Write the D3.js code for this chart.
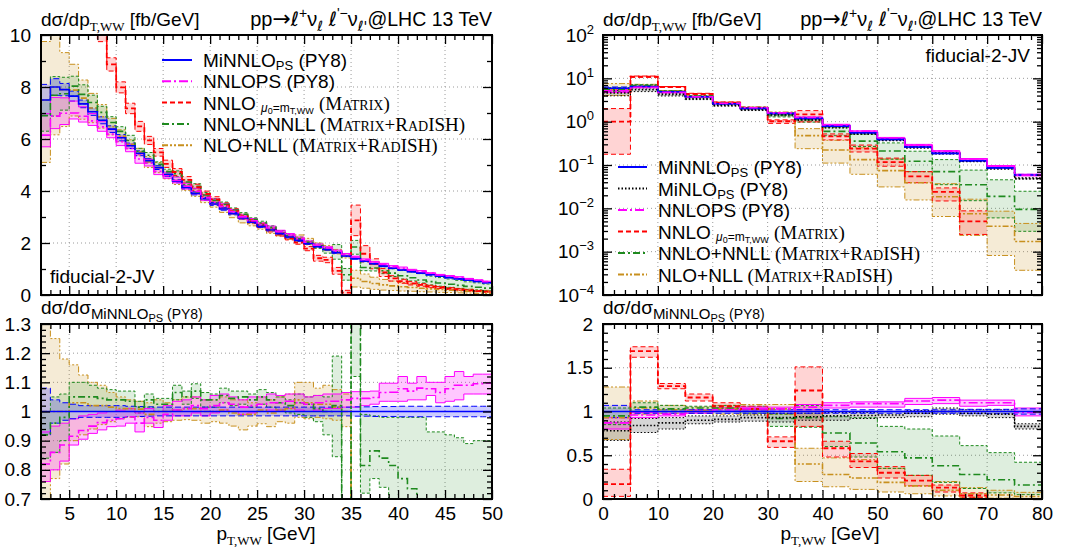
<!DOCTYPE html>
<html>
<head>
<meta charset="utf-8">
<script src="https://cdn.jsdelivr.net/npm/d3@7"></script>
<style>
  body { margin: 0; background: #fff; }
  svg { display: block; }
</style>
</head>
<body>
<svg id="chart" width="1068" height="547"></svg>
<script>
// ---------- left plot: 1 GeV bins from 2 to 50 GeV ----------
var edgesL = d3.range(2, 51);
// MiNNLO_PS absolute [fb/GeV]
var minnloL = [7.5, 8.0, 7.9, 7.65, 7.35, 7.05, 6.72, 6.38, 6.05, 5.74,
  5.45, 5.17, 4.9, 4.63, 4.38, 4.14, 3.91, 3.7, 3.5, 3.31,
  3.13, 2.96, 2.8, 2.64, 2.5, 2.36, 2.23, 2.1, 1.98, 1.86,
  1.75, 1.63, 1.5, 1.4, 1.3, 1.2, 1.11, 1.03, 0.96, 0.9,
  0.84, 0.78, 0.72, 0.67, 0.62, 0.57, 0.52, 0.47];
var minnloErrL = [0.08, 0.04, 0.03, 0.025, 0.02, 0.02, 0.02, 0.02, 0.02, 0.018,
  0.017, 0.016, 0.015, 0.015, 0.015, 0.015, 0.015, 0.015, 0.015, 0.015,
  0.015, 0.015, 0.015, 0.015, 0.015, 0.015, 0.015, 0.015, 0.015, 0.015,
  0.015, 0.015, 0.015, 0.016, 0.016, 0.017, 0.017, 0.017, 0.018, 0.018,
  0.018, 0.018, 0.018, 0.018, 0.018, 0.018, 0.018, 0.018];
// the others as ratio to MiNNLO_PS
var nnlopsL_lo = [0.76, 0.8, 0.83, 0.885, 0.905, 0.925, 0.937, 0.948, 0.95, 0.96,
  0.93, 0.96, 0.945, 0.97, 0.985, 0.985, 0.995, 0.985, 0.995, 1.005,
  1.0, 0.99, 0.995, 1.0, 1.005, 1.005, 1.01, 1.005, 1.0, 1.005,
  1.01, 1.01, 1.015, 1.015, 1.02, 1.025, 1.035, 1.035, 1.035, 1.04,
  1.04, 1.055, 1.03, 1.035, 1.04, 1.06, 1.06, 1.06];
var nnlopsL_c = [0.82, 0.86, 0.885, 0.915, 0.935, 0.95, 0.962, 0.97, 0.975, 0.982,
  0.96, 0.98, 0.97, 0.99, 1.005, 1.01, 1.02, 1.01, 1.02, 1.03,
  1.025, 1.015, 1.02, 1.025, 1.03, 1.03, 1.035, 1.03, 1.025, 1.03,
  1.035, 1.035, 1.04, 1.045, 1.045, 1.048, 1.065, 1.066, 1.078, 1.07,
  1.08, 1.078, 1.065, 1.078, 1.09, 1.09, 1.095, 1.097];
var nnlopsL_hi = [0.93, 0.95, 0.96, 0.975, 0.985, 0.99, 0.995, 1.0, 1.005, 1.01,
  0.995, 1.01, 1.0, 1.02, 1.035, 1.04, 1.05, 1.04, 1.055, 1.06,
  1.05, 1.04, 1.05, 1.05, 1.06, 1.055, 1.06, 1.06, 1.05, 1.055,
  1.06, 1.06, 1.065, 1.068, 1.068, 1.07, 1.097, 1.097, 1.12, 1.097,
  1.12, 1.1, 1.1, 1.12, 1.137, 1.12, 1.128, 1.128];
var nnloL_c = [2.5, 2.5, 2.5, 2.5, 2.5, 2.5, 1.53, 1.39, 1.32, 1.25,
  1.19, 1.15, 1.12, 1.09, 1.08, 1.07, 1.06, 1.05, 1.05, 1.04,
  1.03, 1.02, 1.01, 1.01, 1.0, 0.99, 0.98, 0.96, 0.9, 0.76,
  0.77, 0.57, 0.06, 2.05, 1.22, 1.0, 0.78, 0.62, 0.55, 0.5,
  0.46, 0.42, 0.4, 0.37, 0.34, 0.31, 0.29, 0.27];
var nnloL_err = [0.2, 0.2, 0.2, 0.2, 0.2, 0.2, 0.08, 0.04, 0.035, 0.035,
  0.035, 0.03, 0.03, 0.03, 0.03, 0.03, 0.03, 0.03, 0.03, 0.03,
  0.03, 0.03, 0.03, 0.03, 0.03, 0.03, 0.03, 0.03, 0.04, 0.06,
  0.06, 0.08, 0.06, 0.42, 0.24, 0.16, 0.14, 0.1, 0.08, 0.07,
  0.06, 0.06, 0.05, 0.05, 0.05, 0.05, 0.04, 0.04];
var nnllL_lo = [0.84, 0.86, 0.9, 1.0, 1.0, 1.0, 1.0, 1.0, 1.0, 1.0,
  0.995, 1.015, 1.0, 1.0, 1.04, 1.025, 1.045, 1.015, 1.015, 1.03,
  1.02, 1.025, 1.015, 1.025, 1.015, 1.005, 0.995, 0.99, 0.98, 0.965,
  0.92, 0.845, 0.38, 1.12, 0.72, 0.77, 0.74, 0.69, 0.64, 0.6,
  0.55, 0.5, 0.47, 0.44, 0.41, 0.38, 0.36, 0.34];
var nnllL_c = [0.92, 0.96, 0.98, 1.05, 1.05, 1.05, 1.045, 1.04, 1.04, 1.035,
  1.015, 1.04, 1.025, 1.025, 1.065, 1.05, 1.07, 1.04, 1.04, 1.055,
  1.045, 1.05, 1.04, 1.05, 1.04, 1.03, 1.02, 1.03, 1.025, 1.01,
  1.0, 1.02, 0.52, 1.32, 0.815, 0.865, 0.84, 0.815, 0.77, 0.735,
  0.69, 0.66, 0.64, 0.62, 0.6, 0.58, 0.57, 0.56];
var nnllL_hi = [1.0, 1.05, 1.06, 1.1, 1.1, 1.09, 1.08, 1.075, 1.07, 1.07,
  1.035, 1.06, 1.045, 1.045, 1.09, 1.07, 1.095, 1.065, 1.06, 1.08,
  1.07, 1.07, 1.06, 1.075, 1.065, 1.05, 1.04, 1.06, 1.05, 1.055,
  1.05, 1.19, 0.68, 1.5, 0.99, 0.985, 0.98, 0.98, 0.98, 0.98,
  0.98, 0.93, 0.93, 0.92, 0.91, 0.89, 0.9, 0.9];
var nllL_lo = [0.68, 0.77, 0.82, 0.9, 0.92, 0.94, 0.955, 0.965, 0.975, 0.98,
  0.982, 0.948, 0.96, 0.965, 0.97, 0.972, 0.97, 0.96, 0.965, 0.96,
  0.95, 0.937, 0.95, 0.958, 0.948, 0.965, 0.96, 0.98, 0.975, 0.98,
  0.975, 0.97, 0.948, 0.22, 0.2, 0.18, 0.17, 0.17, 0.16, 0.16,
  0.15, 0.15, 0.14, 0.14, 0.13, 0.13, 0.12, 0.12];
var nllL_c = [1.0, 1.0, 1.0, 1.03, 1.03, 1.02, 1.02, 1.015, 1.01, 1.01,
  1.008, 0.99, 1.0, 1.0, 1.005, 1.01, 1.01, 1.0, 1.0, 1.005,
  0.995, 0.99, 0.99, 1.005, 0.995, 1.005, 1.01, 1.04, 1.03, 1.025,
  1.025, 1.015, 1.0, 0.46, 0.4, 0.37, 0.35, 0.34, 0.33, 0.32,
  0.31, 0.3, 0.29, 0.28, 0.27, 0.26, 0.26, 0.25];
var nllL_hi = [1.3, 1.25, 1.18, 1.16, 1.125, 1.1, 1.09, 1.065, 1.05, 1.04,
  1.035, 1.03, 1.04, 1.03, 1.04, 1.05, 1.05, 1.04, 1.04, 1.05,
  1.04, 1.04, 1.03, 1.05, 1.04, 1.05, 1.06, 1.1, 1.1, 1.08,
  1.09, 1.075, 1.06, 0.68, 0.62, 0.57, 0.54, 0.52, 0.5, 0.48,
  0.47, 0.45, 0.44, 0.43, 0.41, 0.4, 0.39, 0.38];

// ---------- right plot: 5 GeV bins from 0 to 80 GeV ----------
var edgesR = d3.range(0, 85, 5);
var minnloR = [5.9, 6.5, 4.9, 3.76, 2.6, 2.03, 1.55, 1.19, 0.79, 0.555, 0.39, 0.26, 0.185, 0.125, 0.086, 0.059];
var minnloErrR = [0.07, 0.02, 0.02, 0.02, 0.02, 0.02, 0.02, 0.02, 0.02, 0.02, 0.02, 0.02, 0.02, 0.025, 0.025, 0.03];
var minloR_lo = [0.67, 0.76, 0.8, 0.86, 0.88, 0.89, 0.88, 0.9, 0.9, 0.92, 0.93, 0.94, 0.97, 0.95, 0.93, 0.8];
var minloR_c = [0.78, 0.84, 0.87, 0.9, 0.91, 0.93, 0.93, 0.94, 0.95, 0.955, 0.96, 0.98, 1.0, 0.98, 0.97, 0.83];
var minloR_hi = [0.88, 0.92, 0.93, 0.95, 0.95, 0.96, 0.98, 0.98, 0.99, 0.99, 1.0, 1.01, 1.04, 1.02, 1.02, 0.86];
var nnlopsR_lo = [0.8, 0.93, 0.95, 0.98, 1.0, 1.0, 1.0, 1.02, 1.04, 1.05, 1.05, 1.08, 1.09, 1.06, 1.07, 0.95];
var nnlopsR_c = [0.87, 0.96, 0.97, 1.0, 1.02, 1.03, 1.03, 1.05, 1.07, 1.09, 1.09, 1.12, 1.13, 1.1, 1.1, 0.99];
var nnlopsR_hi = [0.93, 0.99, 1.0, 1.02, 1.04, 1.05, 1.05, 1.08, 1.1, 1.11, 1.11, 1.15, 1.16, 1.13, 1.13, 1.04];
var nnloR_lo = [0.03, 1.62, 1.26, 1.12, 1.04, 1.0, 0.59, 0.83, 0.48, 0.36, 0.24, 0.15, 0.08, 0.02, -0.03, -0.04];
var nnloR_c = [0.17, 1.69, 1.29, 1.16, 1.06, 1.03, 0.66, 1.24, 0.58, 0.43, 0.3, 0.21, 0.13, 0.04, -0.01, -0.02];
var nnloR_hi = [0.34, 1.74, 1.32, 1.2, 1.1, 1.06, 0.71, 1.51, 0.66, 0.52, 0.37, 0.27, 0.16, 0.07, -0.005, 0.0];
var nnllR_lo = [0.85, 1.0, 1.0, 1.0, 1.0, 0.98, 0.83, 0.82, 0.6, 0.48, 0.35, 0.27, 0.19, 0.12, 0.07, 0.05];
var nnllR_c = [0.95, 1.05, 1.03, 1.04, 1.04, 1.03, 0.92, 0.93, 0.755, 0.64, 0.54, 0.47, 0.38, 0.28, 0.22, 0.16];
var nnllR_hi = [1.04, 1.1, 1.07, 1.06, 1.07, 1.06, 0.97, 1.07, 0.94, 0.93, 0.83, 0.8, 0.72, 0.61, 0.53, 0.42];
var nllR_lo = [0.68, 0.97, 0.98, 0.98, 0.97, 0.97, 0.97, 0.2, 0.14, 0.11, 0.08, 0.06, 0.035, 0.019, 0.0095, 0.0063];
var nllR_c = [0.93, 1.04, 1.02, 1.01, 1.03, 1.03, 1.03, 0.4, 0.28, 0.24, 0.19, 0.15, 0.1, 0.06, 0.045, 0.029];
var nllR_hi = [1.28, 1.12, 1.07, 1.05, 1.07, 1.08, 1.08, 0.58, 0.47, 0.45, 0.35, 0.27, 0.2, 0.13, 0.1, 0.076];

// ---------- tick values ----------
var xMajorL = d3.range(5, 51, 5), xMinorL = d3.range(2, 51).filter(function (d) { return d % 5; });
var yMajorLT = [0, 2, 4, 6, 8, 10], yMinorLT = [1, 3, 5, 7, 9];
var yMajorLR = [0.7, 0.8, 0.9, 1, 1.1, 1.2, 1.3];
var xMajorR = d3.range(0, 81, 10), xMinorR = d3.range(2, 80, 2).filter(function (d) { return d % 10; });
var yMajorRT = [1e-4, 1e-3, 1e-2, 1e-1, 1, 10, 100];
var yMajorRR = [0, 0.5, 1, 1.5, 2];

var SANS = "'Liberation Sans', Arial, Helvetica, sans-serif";
var SERIF = "'Liberation Serif', 'Times New Roman', serif";
var DEJA = "'DejaVu Sans', sans-serif";

var ST = {
  minnlo: { color: "#0000ff", op: 0.2, dash: null, edge: "6,3", w: 1.6 },
  minlo: { color: "#000000", op: 0.16, dash: "1.5,2", edge: "1.5,2", w: 1.6 },
  nnlops: { color: "#ff00ff", op: 0.22, dash: "9,3,2,3", edge: null, w: 1.6 },
  nnlo: { color: "#ff0000", op: 0.17, dash: "5,3", edge: "5,3", w: 1.8 },
  nnll: { color: "#1f8a1f", op: 0.15, dash: "7,3,2,3", edge: "3,2", w: 1.6 },
  nll: { color: "#c8901e", op: 0.18, dash: "6,2,2,2,2,2", edge: "6,2,2,2,2,2", w: 1.6 }
};

var svg = d3.select("#chart");
var defs = svg.append("defs");

function rich(t, parts) {
  var shift = 0;
  parts.forEach(function (p) {
    var s = p.s || 0;
    t.append("tspan")
      .attr("dy", s - shift)
      .attr("font-size", p.fs || 19)
      .attr("font-family", p.ff || SANS)
      .attr("font-style", p.it ? "italic" : null)
      .text(p.t);
    shift = s;
  });
}

function band(c, lo, hi) { return { c: c, lo: lo, hi: hi }; }
function sym(c, e) {
  return { c: c, lo: c.map(function (v, i) { return v - e[i]; }), hi: c.map(function (v, i) { return v + e[i]; }) };
}
function ones(n) { return d3.range(n).map(function () { return 1; }); }

function drawSeries(g, x, y, edges, base, list, isRatio, isLog) {
  var ok = function (v) { return v != null && isFinite(v) && (!isLog || v > 0); };
  var prep = list.map(function (s) {
    var f = function (arr) { return arr.map(function (r, i) { return isRatio ? r : base[i] * r; }); };
    var c = f(s.c), lo = f(s.lo), hi = f(s.hi);
    var pts = [];
    c.forEach(function (v, i) {
      pts.push({ x: edges[i], c: c[i], lo: lo[i], hi: hi[i] });
      pts.push({ x: edges[i + 1], c: c[i], lo: lo[i], hi: hi[i] });
    });
    return { st: ST[s.k], pts: pts };
  });
  prep.forEach(function (p) {
    g.append("path").datum(p.pts)
      .attr("d", d3.area().defined(function (d) { return ok(d.lo) && ok(d.hi); })
        .x(function (d) { return x(d.x); }).y0(function (d) { return y(d.lo); }).y1(function (d) { return y(d.hi); }))
      .attr("fill", p.st.color).attr("fill-opacity", p.st.op).attr("stroke", "none");
  });
  prep.forEach(function (p) {
    ["lo", "hi"].forEach(function (key) {
      g.append("path").datum(p.pts)
        .attr("d", d3.line().defined(function (d) { return ok(d[key]); })
          .x(function (d) { return x(d.x); }).y(function (d) { return y(d[key]); }))
        .attr("fill", "none").attr("stroke", p.st.color).attr("stroke-width", 1)
        .attr("stroke-dasharray", p.st.edge);
    });
  });
  prep.forEach(function (p) {
    g.append("path").datum(p.pts)
      .attr("d", d3.line().defined(function (d) { return ok(d.c); })
        .x(function (d) { return x(d.x); }).y(function (d) { return y(d.c); }))
      .attr("fill", "none").attr("stroke", p.st.color).attr("stroke-width", p.st.w)
      .attr("stroke-dasharray", p.st.dash);
  });
}

function panel(id, x, y, o) {
  var X = x.range(), Y = y.range();
  defs.append("clipPath").attr("id", id).append("rect")
    .attr("x", X[0]).attr("y", Y[1]).attr("width", X[1] - X[0]).attr("height", Y[0] - Y[1]);
  var g = svg.append("g");
  // grid
  var grid = g.append("g").attr("stroke", "#9a9a9a").attr("stroke-width", 1).attr("stroke-dasharray", "1,3");
  o.xMajor.filter(function (v) { return x(v) > X[0] + 1 && x(v) < X[1] - 1; }).forEach(function (v) {
    grid.append("line").attr("x1", x(v)).attr("x2", x(v)).attr("y1", Y[0]).attr("y2", Y[1]);
  });
  o.yMajor.filter(function (v) { return y(v) < Y[0] - 1 && y(v) > Y[1] + 1; }).forEach(function (v) {
    grid.append("line").attr("x1", X[0]).attr("x2", X[1]).attr("y1", y(v)).attr("y2", y(v));
  });
  var data = g.append("g").attr("clip-path", "url(#" + id + ")");
  drawSeries(data, x, y, o.edges, o.base, o.series, o.ratio, o.log);

  // ticks (inward on all four sides)
  var mk = function (axis, tr, vals, len, fmt, pad) {
    var a = g.append("g").attr("transform", tr)
      .call(axis.tickValues(vals).tickSizeInner(-len).tickSizeOuter(0).tickPadding(pad || 8)
        .tickFormat(fmt || function () { return ""; }));
    a.select(".domain").remove();
    a.selectAll("line").attr("stroke-width", 1.3);
    a.selectAll("text").attr("font-size", 19).attr("font-family", SANS).attr("fill", "#000");
    return a;
  };
  mk(d3.axisBottom(x), "translate(0," + Y[0] + ")", o.xMajor, 9, o.xFmt, 8);
  mk(d3.axisBottom(x), "translate(0," + Y[0] + ")", o.xMinor, 5);
  mk(d3.axisTop(x), "translate(0," + Y[1] + ")", o.xMajor, 9);
  mk(d3.axisTop(x), "translate(0," + Y[1] + ")", o.xMinor, 5);
  var yl = mk(d3.axisLeft(y), "translate(" + X[0] + ",0)", o.yMajor, 9, o.yFmt, o.yPad || 10);
  mk(d3.axisLeft(y), "translate(" + X[0] + ",0)", o.yMinor, 5);
  mk(d3.axisRight(y), "translate(" + X[1] + ",0)", o.yMajor, 9);
  mk(d3.axisRight(y), "translate(" + X[1] + ",0)", o.yMinor, 5);
  if (o.log) {
    yl.selectAll(".tick text").each(function (d) {
      var e = Math.round(Math.log10(d));
      var t = d3.select(this).text(null);
      t.append("tspan").text("10");
      t.append("tspan").attr("dy", -8).attr("font-size", 13).text(e < 0 ? "\u2212" + (-e) : String(e));
    });
  }
  g.append("rect").attr("x", X[0]).attr("y", Y[1]).attr("width", X[1] - X[0]).attr("height", Y[0] - Y[1])
    .attr("fill", "none").attr("stroke", "#000").attr("stroke-width", 2);
  return g;
}

// ---------- scales ----------
var xL = d3.scaleLinear().domain([2, 50]).range([41, 492]);
var yLT = d3.scaleLinear().domain([0, 10]).range([295, 35]);
var yLR = d3.scaleLinear().domain([0.7, 1.3]).range([499, 324]);
var xR = d3.scaleLinear().domain([0, 80]).range([603, 1042]);
var yRT = d3.scaleLog().domain([1e-4, 100]).range([295, 35]);
var yRR = d3.scaleLinear().domain([0, 2]).range([499, 324]);

var nL = minnloL.length, nR = minnloR.length;
var sL = {
  nll: band(nllL_c, nllL_lo, nllL_hi),
  nnll: band(nnllL_c, nnllL_lo, nnllL_hi),
  nnlo: sym(nnloL_c, nnloL_err),
  nnlops: band(nnlopsL_c, nnlopsL_lo, nnlopsL_hi),
  minnlo: sym(ones(nL), minnloErrL)
};
var sR = {
  nll: band(nllR_c, nllR_lo, nllR_hi),
  nnll: band(nnllR_c, nnllR_lo, nnllR_hi),
  nnlo: band(nnloR_c, nnloR_lo, nnloR_hi),
  minlo: band(minloR_c, minloR_lo, minloR_hi),
  nnlops: band(nnlopsR_c, nnlopsR_lo, nnlopsR_hi),
  minnlo: sym(ones(nR), minnloErrR)
};
function pick(obj, keys) { return keys.map(function (k) { var s = obj[k]; s.k = k; return s; }); }

var ratioFmt = function (d) { return String(+d.toFixed(2)); };

panel("cLT", xL, yLT, {
  edges: edgesL, base: minnloL, series: pick(sL, ["nll", "nnll", "nnlo", "minnlo", "nnlops"]),
  ratio: false, log: false, xMajor: xMajorL, xMinor: xMinorL, yMajor: yMajorLT, yMinor: yMinorLT,
  yFmt: d3.format("d")
});
panel("cLR", xL, yLR, {
  edges: edgesL, base: minnloL, series: pick(sL, ["nll", "nnll", "nnlops", "minnlo"]),
  ratio: true, log: false, xMajor: xMajorL, xMinor: xMinorL, yMajor: yMajorLR,
  yMinor: d3.range(0.72, 1.3, 0.02).filter(function (v) { return Math.abs(v * 10 - Math.round(v * 10)) > 0.01; }),
  xFmt: d3.format("d"), yFmt: ratioFmt
});
var logMinor = [];
[-4, -3, -2, -1, 0, 1].forEach(function (e) { d3.range(2, 10).forEach(function (k) { logMinor.push(k * Math.pow(10, e)); }); });
panel("cRT", xR, yRT, {
  edges: edgesR, base: minnloR, series: pick(sR, ["nll", "nnll", "nnlo", "minlo", "minnlo", "nnlops"]),
  ratio: false, log: true, xMajor: xMajorR, xMinor: xMinorR, yMajor: yMajorRT, yMinor: logMinor,
  yFmt: function () { return ""; }, yPad: 9
});
panel("cRR", xR, yRR, {
  edges: edgesR, base: minnloR, series: pick(sR, ["nll", "nnll", "nnlo", "minlo", "nnlops", "minnlo"]),
  ratio: true, log: false, xMajor: xMajorR, xMinor: xMinorR, yMajor: yMajorRR,
  yMinor: [0.1, 0.2, 0.3, 0.4, 0.6, 0.7, 0.8, 0.9, 1.1, 1.2, 1.3, 1.4, 1.6, 1.7, 1.8, 1.9],
  xFmt: d3.format("d"), yFmt: ratioFmt
});

// ---------- texts ----------
function txt(x, y, anchor) {
  return svg.append("text").attr("x", x).attr("y", y).attr("text-anchor", anchor || "start")
    .attr("font-family", SANS).attr("font-size", 19).attr("fill", "#000");
}
var titleY = [{ t: "d\u03c3/dp" }, { t: "T,WW", fs: 13, ff: SERIF, s: 5 }, { t: " [fb/GeV]" }];
var proc = [{ t: "pp", fs: 20 }, { t: "\u2192", fs: 22, ff: DEJA }, { t: "\u2113", fs: 20, ff: DEJA, it: true },
  { t: "+", fs: 14, s: -8 }, { t: "\u03bd", fs: 20 }, { t: "\u2113", fs: 14, ff: DEJA, s: 5, it: true },
  { t: " ", fs: 20 }, { t: "\u2113", fs: 20, ff: DEJA, it: true }, { t: "'\u2212", fs: 14, s: -8 },
  { t: "\u03bd", fs: 20 }, { t: "\u2113'", fs: 14, ff: DEJA, s: 5, it: true }, { t: "@LHC 13 TeV", fs: 19.5 }];
var ratioLab = [{ t: "d\u03c3/d\u03c3" }, { t: "MiNNLO", fs: 15, s: 5 }, { t: "PS", fs: 11, s: 8 }, { t: " (PY8)", fs: 14, s: 5 }];
var xLab = [{ t: "p" }, { t: "T,WW", fs: 13, ff: SERIF, s: 5 }, { t: " [GeV]" }];

rich(txt(41, 26), titleY);
rich(txt(492, 26, "end"), proc);
rich(txt(603, 26), titleY);
rich(txt(1042, 26, "end"), proc);
rich(txt(50, 283), [{ t: "fiducial-2-JV" }]);
rich(txt(1030, 62, "end"), [{ t: "fiducial-2-JV" }]);
rich(txt(41, 314), ratioLab);
rich(txt(603, 314), ratioLab);
rich(txt(266, 540, "middle"), xLab);
rich(txt(830, 540, "middle"), xLab);

// ---------- legends ----------
var MATRIX = [{ t: "(", ff: SERIF }, { t: "M", ff: SERIF }, { t: "ATRIX", ff: SERIF, fs: 14 }];
var MR = MATRIX.concat([{ t: "+", ff: SERIF }, { t: "R", ff: SERIF }, { t: "AD", ff: SERIF, fs: 14 }, { t: "ISH", ff: SERIF }, { t: ")", ff: SERIF }]);
var LEG = {
  minnlo: [{ t: "MiNNLO" }, { t: "PS", fs: 13, s: 3 }, { t: " (PY8)" }],
  minlo: [{ t: "MiNLO" }, { t: "PS", fs: 13, s: 3 }, { t: " (PY8)" }],
  nnlops: [{ t: "NNLOPS (PY8)" }],
  nnlo: [{ t: "NNLO " }, { t: "\u03bc", fs: 12, s: 2, it: true }, { t: "0", fs: 9, s: 4 }, { t: "=m", fs: 12, s: 2 },
    { t: "T,WW", fs: 9, s: 4 }, { t: " ", s: 0 }].concat(MATRIX).concat([{ t: ")", ff: SERIF }]),
  nnll: [{ t: "NNLO+NNLL " }].concat(MR),
  nll: [{ t: "NLO+NLL " }].concat(MR)
};
function legend(keys, x0, x1, tx, y0, step) {
  keys.forEach(function (k, i) {
    var yy = y0 + i * step, st = ST[k];
    svg.append("line").attr("x1", x0).attr("x2", x1).attr("y1", yy).attr("y2", yy)
      .attr("stroke", st.color).attr("stroke-width", 2).attr("stroke-dasharray", st.dash);
    rich(txt(tx, yy + 7), LEG[k]);
  });
}
legend(["minnlo", "nnlops", "nnlo", "nnll", "nll"], 162, 192, 203, 60, 21.3);
legend(["minnlo", "minlo", "nnlops", "nnlo", "nnll", "nll"], 618, 647, 658, 167, 21.5);
</script>
</body>
</html>
